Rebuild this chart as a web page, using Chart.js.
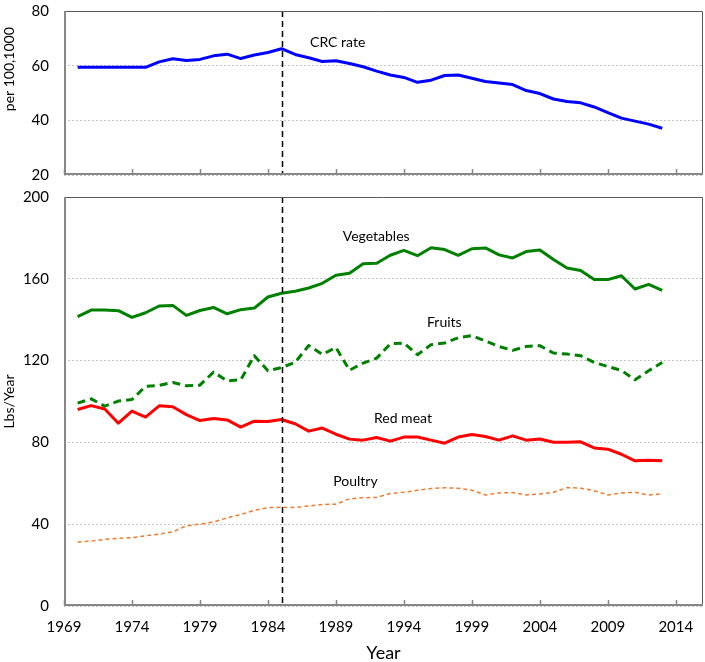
<!DOCTYPE html>
<html><head><meta charset="utf-8">
<script src="https://cdn.jsdelivr.net/npm/chart.js@4/dist/chart.umd.min.js"></script>
<style>
html,body{margin:0;padding:0;background:#fff;}
#wrap{position:relative;width:705px;height:662px;overflow:hidden;}
#c1{position:absolute;left:0;top:0;}
#c2{position:absolute;left:0;top:185px;}
</style></head><body>
<div id="wrap"><canvas id="c1" width="705" height="185"></canvas><canvas id="c2" width="705" height="477"></canvas></div>
<script>
const years = [1970,1971,1972,1973,1974,1975,1976,1977,1978,1979,1980,1981,1982,1983,1984,1985,1986,1987,1988,1989,1990,1991,1992,1993,1994,1995,1996,1997,1998,1999,2000,2001,2002,2003,2004,2005,2006,2007,2008,2009,2010,2011,2012,2013];
const crcRate = [59.4,59.4,59.4,59.4,59.4,59.4,61.4,62.5,61.9,62.3,63.6,64.2,62.6,63.9,64.8,66.2,64.1,62.9,61.5,61.8,60.8,59.6,58.0,56.6,55.7,53.9,54.7,56.4,56.6,55.4,54.2,53.7,53.1,50.9,49.8,47.8,46.9,46.4,44.9,42.8,40.8,39.7,38.6,37.1];
const vegetables = [141.5,144.7,144.7,144.4,141.1,143.4,146.7,147.0,142.1,144.5,146.0,142.9,144.9,145.7,151.1,152.9,153.9,155.5,157.8,161.7,162.7,167.4,167.6,171.5,173.9,171.3,175.2,174.3,171.5,174.7,175.1,171.7,170.2,173.3,174.1,169.4,165.3,164.1,159.7,159.6,161.5,155.0,157.3,154.3];
const fruits = [99.2,101.3,97.7,100.2,101.0,107.4,107.9,109.3,107.7,108.0,114.4,110.1,110.6,122.4,115.0,116.6,119.1,127.4,123.0,126.4,115.3,118.8,121.2,128.2,128.6,122.9,127.8,128.6,131.2,132.2,129.6,126.9,125.0,126.9,127.3,123.7,123.2,122.4,119.1,117.1,115.2,110.6,115.0,119.1];
const redMeat = [96.1,98.0,96.3,89.4,95.3,92.4,97.9,97.4,93.6,90.7,91.7,91.0,87.5,90.4,90.2,91.2,89.1,85.5,87.0,84.0,81.6,81.1,82.4,80.6,82.6,82.6,81.1,79.6,82.6,83.9,82.9,81.1,83.2,81.1,81.7,80.1,80.1,80.3,77.3,76.7,74.2,71.0,71.3,71.0];
const poultry = [31.3,31.7,32.6,33.1,33.4,34.3,35.2,36.2,39.2,40.0,41.1,43.1,44.7,46.8,48.1,48.3,48.1,48.9,49.6,49.8,52.4,52.9,53.1,55.0,55.6,56.6,57.4,57.8,57.6,56.6,54.3,55.3,55.5,54.3,54.8,55.6,57.9,57.6,56.4,54.3,55.3,55.6,54.3,54.8];
const xTickYears = [1969,1974,1979,1984,1989,1994,1999,2004,2009,2014];
const topYTicks = [20,40,60,80];
const bottomYTicks = [0,40,80,120,160,200];
const changeYear = 1985;

const FONT = 'Lato, "Open Sans", sans-serif';
const pts = arr => years.map((y,i)=>({x:y,y:arr[i]}));

const decor = {
  id:'decor',
  afterDatasetsDraw(chart, args, opts){
    const {ctx, chartArea:a} = chart;
    const x = chart.scales.x, y = chart.scales.y;
    ctx.save();
    const vx = Math.round(x.getPixelForValue(changeYear))+0.5;
    ctx.strokeStyle='#000'; ctx.lineWidth=1.5; ctx.setLineDash([6,4]);
    ctx.beginPath(); ctx.moveTo(vx,a.top); ctx.lineTo(vx,a.bottom); ctx.stroke();
    ctx.setLineDash([]);
    ctx.strokeStyle='#595959'; ctx.lineWidth=1;
    ctx.beginPath(); ctx.moveTo(a.left,a.top+0.5); ctx.lineTo(a.right-0.5,a.top+0.5); ctx.lineTo(a.right-0.5,a.bottom); ctx.stroke();
    ctx.strokeStyle='#878787'; ctx.lineWidth=2;
    ctx.beginPath(); ctx.moveTo(a.left+1,a.top); ctx.lineTo(a.left+1,a.bottom-1); ctx.lineTo(a.right,a.bottom-1); ctx.stroke();
    ctx.lineWidth=1.5;
    xTickYears.forEach(t=>{const px=Math.round(x.getPixelForValue(t))+0.5; ctx.beginPath(); ctx.moveTo(px,a.bottom-1); ctx.lineTo(px,a.bottom-6); ctx.stroke();});
    ctx.fillStyle='#000'; ctx.font='14px '+FONT; ctx.textAlign='left'; ctx.textBaseline='middle';
    (opts.labels||[]).forEach(l=> ctx.fillText(l.text, x.getPixelForValue(l.x), y.getPixelForValue(l.y)));
    if (opts.yTitle){
      ctx.save();
      ctx.translate(9, y.getPixelForValue(opts.yTitle.at));
      ctx.rotate(-Math.PI/2);
      ctx.textAlign='center'; ctx.textBaseline='middle';
      ctx.fillText(opts.yTitle.text, 0, 0);
      ctx.restore();
    }
    ctx.restore();
  }
};

function zeroPad(s){ s.paddingTop=0; s.paddingBottom=0; s.paddingLeft=0; s.paddingRight=0; }

function yScale(min,max,ticksArr){
  return {
    min, max,
    afterBuildTicks(s){ s.ticks = ticksArr.map(v=>({value:v})); },
    afterFit(s){ s.width = 64; zeroPad(s); },
    ticks:{color:'#000', font:{family:FONT,size:15}, padding:15},
    grid:{color:'#c4c4c4', lineWidth:1, drawTicks:false},
    border:{display:false, dash:[2,2]},
    title:{display:false}
  };
}
function xScale(show){
  return {
    type:'linear', min:1969, max:2016, display:show,
    afterBuildTicks(s){ s.ticks = xTickYears.map(v=>({value:v})); },
    afterFit(s){ if(show) s.height = 56; zeroPad(s); },
    ticks:{color:'#000', font:{family:FONT,size:15}, padding:12, maxRotation:0, callback:v=>String(v)},
    grid:{display:false, drawTicks:false},
    border:{display:false},
    title:{display:show, text:'Year', color:'#000', font:{family:FONT,size:18, lineHeight:1}, padding:{top:0,bottom:0}}
  };
}
const common = (pad, labels, yTitle) => ({
  responsive:false, animation:false, devicePixelRatio:1,
  layout:{padding:pad},
  plugins:{legend:{display:false}, tooltip:{enabled:false}, decor:{labels, yTitle}},
  elements:{point:{radius:0}, line:{tension:0, borderCapStyle:'butt', borderJoinStyle:'round'}}
});

const o1 = common({top:11,bottom:10,left:0,right:2},[{text:'CRC rate', x:1987.1, y:68.3}], {text:'per 100,1000', at:58.7});
o1.scales = {x:xScale(false), y:yScale(20,80,topYTicks)};
new Chart(document.getElementById('c1'),{
  type:'line',
  data:{datasets:[{label:'CRC rate', data:pts(crcRate), borderColor:'#0000FF', borderWidth:3}]},
  options:o1, plugins:[decor]
});

const o2 = common({top:12,bottom:0,left:0,right:2},[
  {text:'Vegetables', x:1989.5, y:180.8},
  {text:'Fruits', x:1995.7, y:138.4},
  {text:'Red meat', x:1991.8, y:91.9},
  {text:'Poultry', x:1988.8, y:60.8}
], {text:'Lbs/Year', at:100});
o2.scales = {x:xScale(true), y:yScale(0,200,bottomYTicks)};
new Chart(document.getElementById('c2'),{
  type:'line',
  data:{datasets:[
    {label:'Vegetables', data:pts(vegetables), borderColor:'#008000', borderWidth:3},
    {label:'Fruits', data:pts(fruits), borderColor:'#008000', borderWidth:3, borderDash:[8,5]},
    {label:'Red meat', data:pts(redMeat), borderColor:'#FF0000', borderWidth:3},
    {label:'Poultry', data:pts(poultry), borderColor:'#ED7D31', borderWidth:1.5, borderDash:[4,3]}
  ]},
  options:o2, plugins:[decor]
});
</script>
</body></html>
